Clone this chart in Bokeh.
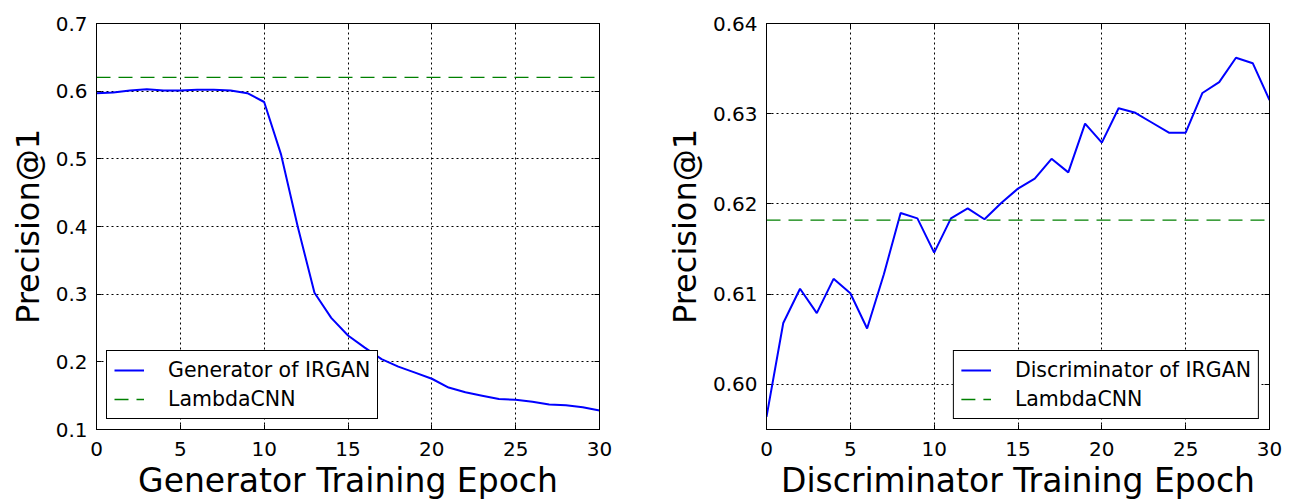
from bokeh.plotting import figure
from bokeh.layouts import row
from bokeh.models import (FixedTicker, NumeralTickFormatter, Legend, LegendItem, Range1d,
                          LinearAxis, CustomJSTickFormatter)
from bokeh.embed import file_html
from bokeh.resources import INLINE

epochs = list(range(31))
generator_irgan = [0.597, 0.598, 0.601, 0.603, 0.601, 0.601, 0.602, 0.602, 0.601, 0.597,
                   0.584, 0.507, 0.400, 0.302, 0.265, 0.239, 0.221, 0.204, 0.193, 0.184,
                   0.175, 0.162, 0.155, 0.150, 0.145, 0.144, 0.141, 0.137, 0.136, 0.133, 0.128]
discriminator_irgan = [0.5964, 0.6068, 0.6106, 0.6079, 0.6117, 0.6101, 0.6062, 0.6122, 0.6190, 0.6184,
                       0.6146, 0.6184, 0.6195, 0.6183, 0.6201, 0.6217, 0.6228, 0.6250, 0.6235, 0.6289,
                       0.6268, 0.6306, 0.6301, 0.6290, 0.6279, 0.6279, 0.6323, 0.6335, 0.6362, 0.6356, 0.6315]
lambdacnn_left = 0.6205
lambdacnn_right = 0.6182

x_ticks = [0, 5, 10, 15, 20, 25, 30]
left_y_ticks = [0.1, 0.2, 0.3, 0.4, 0.5, 0.6, 0.7]
right_y_ticks = [0.60, 0.61, 0.62, 0.63, 0.64]

FONT = "DejaVu Sans"
HEIGHT = 502


def style_axis(ax):
    ax.axis_line_color = "black"
    ax.major_tick_in = 5
    ax.major_tick_out = 0
    ax.minor_tick_line_color = None
    ax.major_label_text_font = FONT
    ax.major_label_text_font_size = "20px"
    ax.major_label_text_color = "black"
    ax.axis_label_text_font = FONT
    ax.axis_label_text_font_style = "normal"
    ax.axis_label_text_color = "black"


def mirror_axis(ticks):
    return LinearAxis(ticker=FixedTicker(ticks=ticks),
                      formatter=CustomJSTickFormatter(code="return ''"),
                      major_label_standoff=0, major_tick_in=5, major_tick_out=0,
                      minor_tick_line_color=None, axis_line_color="black")


def make_fig(width, border_left, border_right, yr, yticks, yfmt, xlabel, series, base, series_label, legend_loc):
    p = figure(width=width, height=HEIGHT, output_backend="svg", toolbar_location=None,
               x_range=Range1d(0, 30), y_range=Range1d(*yr),
               min_border_left=border_left, min_border_right=border_right,
               min_border_top=23, min_border_bottom=HEIGHT - 431)
    p.outline_line_color = "black"
    p.outline_line_width = 1
    p.outline_line_alpha = 1
    style_axis(p.xaxis[0])
    style_axis(p.yaxis[0])
    p.xaxis.axis_label_text_font_size = "33px"
    p.yaxis.axis_label_text_font_size = "32px"
    p.xaxis.ticker = FixedTicker(ticks=x_ticks)
    p.yaxis.ticker = FixedTicker(ticks=yticks)
    p.yaxis.formatter = NumeralTickFormatter(format=yfmt)
    p.xaxis.major_label_standoff = 12
    p.yaxis.major_label_standoff = 9
    p.xaxis.axis_label_standoff = 2
    p.yaxis.axis_label_standoff = 6
    p.xaxis.axis_label = xlabel
    p.yaxis.axis_label = "Precision@1"

    # mirrored inside ticks on the top and right edges (no labels)
    p.add_layout(mirror_axis(x_ticks), "above")
    p.add_layout(mirror_axis(yticks), "right")

    for g in (p.xgrid[0], p.ygrid[0]):
        g.grid_line_color = "black"
        g.grid_line_dash = "2 3"
        g.grid_line_width = 1
        g.grid_line_alpha = 1
    p.xgrid.ticker = FixedTicker(ticks=x_ticks)
    p.ygrid.ticker = FixedTicker(ticks=yticks)

    r1 = p.line(epochs, series, line_color="#0000ff", line_width=2)
    r2 = p.line([0, 30], [base, base], line_color="#008000", line_width=1.3, line_dash="14 8")
    legend = Legend(items=[LegendItem(label=series_label, renderers=[r1]),
                           LegendItem(label="LambdaCNN", renderers=[r2])],
                    location=legend_loc)
    legend.label_text_font = FONT
    legend.label_text_font_size = "20.5px"
    legend.label_text_color = "black"
    legend.border_line_color = "black"
    legend.border_line_width = 1
    legend.border_line_alpha = 1
    legend.background_fill_alpha = 1
    legend.glyph_width = 30
    legend.glyph_height = 22
    legend.label_standoff = 24
    legend.padding = 7
    legend.spacing = 5
    legend.margin = 10
    legend.label_height = 22
    p.add_layout(legend, "center")
    return p


p1 = make_fig(655, 96, 56, (0.1, 0.7), left_y_ticks, "0.0", "Generator Training Epoch",
              generator_irgan, lambdacnn_left, "Generator of IRGAN", "bottom_left")
p2 = make_fig(631, 111, 17, (0.595, 0.64), right_y_ticks, "0.00", "Discriminator Training Epoch",
              discriminator_irgan, lambdacnn_right, "Discriminator of IRGAN", "bottom_right")

layout = row(p1, p2)
open("out.html", "w").write(file_html(layout, INLINE))
